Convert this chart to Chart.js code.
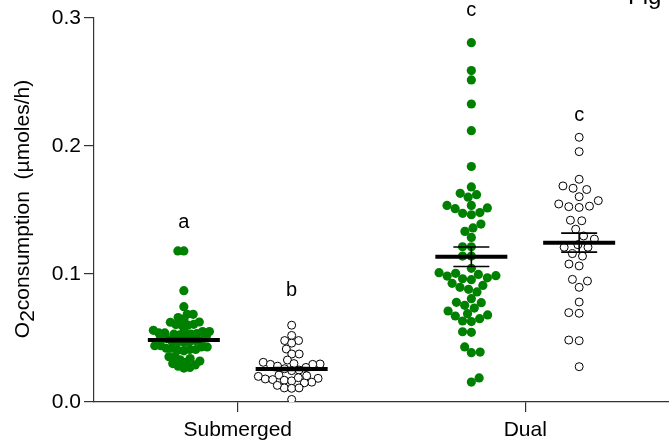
<!DOCTYPE html>
<html>
<head>
<meta charset="utf-8">
<script src="https://cdn.jsdelivr.net/npm/chart.js@4"></script>
<style>
  html, body { margin: 0; padding: 0; background: #fff; }
  #wrap { width: 669px; height: 441px; position: relative; }
</style>
</head>
<body>
<div id="wrap"><canvas id="c" width="669" height="441"></canvas></div>
<script>
// ---------- data ----------
const categories = ['Submerged', 'Dual'];
const yTicks = [0.0, 0.1, 0.2, 0.3];

const submergedGreen = [
  0.118, 0.118, 0.087, 0.0745,
  0.0685, 0.066, 0.0623, 0.060, 0.060, 0.0605, 0.0607, 0.0625, 0.0646, 0.0685,
  0.056, 0.055, 0.054, 0.053, 0.0525, 0.053, 0.0535, 0.054, 0.055, 0.0557,
  0.051, 0.0495, 0.048, 0.047, 0.0465, 0.047, 0.0475, 0.048, 0.0495, 0.051,
  0.044, 0.043, 0.042, 0.041, 0.040, 0.0405, 0.041, 0.042, 0.043, 0.044,
  0.0354, 0.034, 0.032, 0.030, 0.028, 0.0265, 0.027, 0.029, 0.031, 0.033, 0.0354
];
const submergedOpen = [
  0.060, 0.052, 0.048, 0.048, 0.046, 0.0414, 0.0375, 0.0375, 0.0328, 0.031,
  0.0297, 0.0294, 0.0294, 0.030, 0.028, 0.027, 0.026, 0.025, 0.0245,
  0.021, 0.020, 0.0185, 0.018, 0.017, 0.0155, 0.015, 0.0165, 0.0175, 0.019, 0.0205,
  0.011, 0.0107, 0.011, 0.013, 0.002
];
const dualGreen = [
  0.2807, 0.2589, 0.2516, 0.2328, 0.212, 0.184,
  0.168, 0.162, 0.163, 0.160,
  0.1536, 0.1516, 0.151, 0.1536,
  0.1474, 0.1463, 0.148,
  0.139, 0.1333, 0.136, 0.1286,
  0.1213, 0.1213, 0.114, 0.114,
  0.1044,
  0.1005, 0.0987, 0.097, 0.0956, 0.0963, 0.0984, 0.0997, 0.101,
  0.0911, 0.088, 0.086, 0.0896, 0.0927,
  0.0779, 0.0755, 0.0734, 0.0776, 0.0807,
  0.069, 0.0672, 0.0711, 0.0651, 0.068,
  0.0628, 0.0633,
  0.0544, 0.0549,
  0.039, 0.0385, 0.043,
  0.0156, 0.0188
];
const dualOpen = [
  0.2068, 0.1956, 0.174, 0.1688, 0.166, 0.167, 0.1604, 0.1547, 0.1526, 0.152,
  0.153, 0.1573, 0.1416, 0.142, 0.135, 0.1297, 0.1273, 0.1229, 0.1209, 0.1209,
  0.1159, 0.114, 0.1078, 0.1063, 0.0958, 0.0896, 0.0945, 0.0781, 0.0693, 0.0698,
  0.0484, 0.0479, 0.0276
];

// group summary (mean +/- SEM) and significance letters
const groupMeans   = [0.0484, 0.0258, 0.1135, 0.1245];
const groupSEM     = [0.0012, 0.0012, 0.0076, 0.0074];
const groupLetters = ['a', 'b', 'c', 'c'];
const letterValues = [0.140, 0.087, 0.306, 0.224];

// ---------- styling / layout ----------
const FONT = '"Liberation Sans", Arial, sans-serif';
const GREEN = '#008000';
const groups = [
  { values: submergedGreen, cat: 0, side: -1, filled: true,  gap: 6.0 },
  { values: submergedOpen,  cat: 0, side:  1, filled: false, gap: 7.4 },
  { values: dualGreen,      cat: 1, side: -1, filled: true,  gap: 8.8 },
  { values: dualOpen,       cat: 1, side:  1, filled: false, gap: 10.4 }
];
const GROUP_OFFSET = 0.1875;
function groupX(g) { return (g.cat + 1) + g.side * GROUP_OFFSET; }

const datasets = groups.map(g => ({
  data: g.values.map(v => ({ x: groupX(g), y: v })),
  pointRadius: g.filled ? 4.6 : 4.0,
  pointHoverRadius: g.filled ? 4.6 : 4.0,
  pointBackgroundColor: g.filled ? GREEN : '#ffffff',
  pointBorderColor: g.filled ? GREEN : '#000000',
  pointBorderWidth: g.filled ? 0 : 1,
  showLine: false
}));

// beeswarm layout (pixel space), lowest values placed first
function swarm(ysPx, d) {
  const order = ysPx.map((y, i) => i).sort((a, b) => ysPx[b] - ysPx[a]);
  const placed = [];
  const xs = new Array(ysPx.length).fill(0);
  let flip = 1;
  for (const i of order) {
    const y = ysPx[i];
    const cands = [0];
    for (const p of placed) {
      const dy = Math.abs(p.y - y);
      if (dy < d) {
        const dx = Math.sqrt(d * d - dy * dy);
        cands.push(p.x + dx + 0.001, p.x - dx - 0.001);
      }
    }
    cands.sort((a, b) => (Math.abs(a) - Math.abs(b)) || (flip * (a - b)));
    let chosen = 0;
    for (const c of cands) {
      if (placed.every(p => (p.x - c) ** 2 + (p.y - y) ** 2 >= d * d - 0.01)) { chosen = c; break; }
    }
    flip = -flip;
    placed.push({ x: chosen, y });
    xs[i] = chosen;
  }
  return xs;
}

const summaryPlugin = {
  id: 'summary',
  afterDatasetsDraw(chart) {
    const { ctx, scales: { x, y } } = chart;
    ctx.save();
    ctx.strokeStyle = '#000';
    groups.forEach((g, gi) => {
      const cx = x.getPixelForValue(groupX(g));
      const m = y.getPixelForValue(groupMeans[gi]);
      const hi = y.getPixelForValue(groupMeans[gi] + groupSEM[gi]);
      const lo = y.getPixelForValue(groupMeans[gi] - groupSEM[gi]);
      ctx.lineWidth = 1.6;
      ctx.beginPath();
      ctx.moveTo(cx, hi); ctx.lineTo(cx, lo);
      ctx.moveTo(cx - 18, hi); ctx.lineTo(cx + 18, hi);
      ctx.moveTo(cx - 18, lo); ctx.lineTo(cx + 18, lo);
      ctx.stroke();
      ctx.lineWidth = 4;
      ctx.beginPath();
      ctx.moveTo(cx - 36, m); ctx.lineTo(cx + 36, m);
      ctx.stroke();
    });
    ctx.restore();
  },
  afterDraw(chart) {
    const { ctx, scales: { x, y } } = chart;
    ctx.save();
    ctx.fillStyle = '#000';
    ctx.font = '20px ' + FONT;
    ctx.textAlign = 'center';
    ctx.textBaseline = 'middle';
    groups.forEach((g, gi) => {
      ctx.fillText(groupLetters[gi], x.getPixelForValue(groupX(g)), y.getPixelForValue(letterValues[gi]));
    });
    // y-axis title with subscript
    const fs = 21;
    ctx.font = fs + 'px ' + FONT;
    const p1 = 'O', p2 = '2', p3 = 'consumption  (\u00b5moles/h)';
    const w1 = ctx.measureText(p1).width, w2 = ctx.measureText(p2).width, w3 = ctx.measureText(p3).width;
    const total = w1 + w2 + w3;
    ctx.translate(29, 209);
    ctx.rotate(-Math.PI / 2);
    ctx.textAlign = 'left';
    ctx.textBaseline = 'alphabetic';
    let sx = -total / 2;
    ctx.fillText(p1, sx, 0); sx += w1;
    ctx.fillText(p2, sx, 5); sx += w2;
    ctx.fillText(p3, sx, 0);
    ctx.restore();
    // partially visible figure label, top right
    ctx.save();
    ctx.fillStyle = '#000';
    ctx.font = '24px ' + FONT;
    ctx.textAlign = 'left';
    ctx.textBaseline = 'alphabetic';
    ctx.fillText('Fig', 628, 4);
    ctx.restore();
  }
};

const chart = new Chart(document.getElementById('c'), {
  type: 'scatter',
  data: { datasets },
  options: {
    responsive: false,
    devicePixelRatio: 1,
    animation: false,
    events: [],
    layout: { autoPadding: false, padding: { top: 18, right: 0, left: 0, bottom: 0 } },
    plugins: { legend: { display: false }, tooltip: { enabled: false } },
    scales: {
      x: {
        type: 'linear',
        min: 0.5, max: 2.5,
        afterFit(s) { s.height = 39; },
        afterBuildTicks(s) { s.ticks = categories.map((c, i) => ({ value: i + 1 })); },
        ticks: {
          callback: v => categories[Math.round(v) - 1],
          font: { family: FONT, size: 21 },
          color: '#000',
          padding: 6,
          maxRotation: 0,
          autoSkip: false
        },
        grid: { display: true, drawOnChartArea: false, drawTicks: true, tickLength: 10, color: '#333', lineWidth: 1.2 },
        border: { display: true, color: '#333', width: 1.2 }
      },
      y: {
        type: 'linear',
        min: 0, max: 0.3,
        afterFit(s) { s.width = 94; },
        afterBuildTicks(s) { s.ticks = yTicks.map(v => ({ value: v })); },
        ticks: {
          callback: v => Number(v).toFixed(1),
          font: { family: FONT, size: 21 },
          color: '#000',
          padding: 3
        },
        grid: { display: true, drawOnChartArea: false, drawTicks: true, tickLength: 10, color: '#333', lineWidth: 1.2 },
        border: { display: true, color: '#333', width: 1.2 }
      }
    }
  },
  plugins: [summaryPlugin]
});

// apply beeswarm offsets using the chart's own scales
(function applySwarm() {
  const xs = chart.scales.x, ys = chart.scales.y;
  const pxPerUnit = (xs.getPixelForValue(2) - xs.getPixelForValue(1));
  groups.forEach((g, gi) => {
    const ysPx = g.values.map(v => ys.getPixelForValue(v));
    const offs = swarm(ysPx, g.gap);
    chart.data.datasets[gi].data = g.values.map((v, i) => ({ x: groupX(g) + offs[i] / pxPerUnit, y: v }));
  });
  chart.update('none');
})();
</script>
</body>
</html>
